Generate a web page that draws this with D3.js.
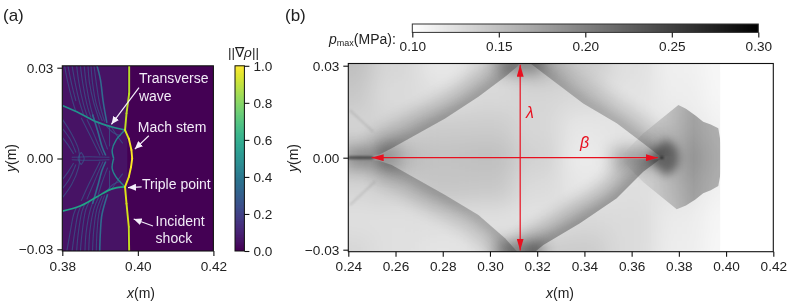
<!DOCTYPE html>
<html>
<head>
<meta charset="utf-8">
<script src="https://cdn.jsdelivr.net/npm/d3@7"></script>
<style>
  html, body { margin: 0; padding: 0; background: #fff; }
  svg { display: block; font-family: "Liberation Sans", Arial, sans-serif; filter: blur(0.3px); }
  text { fill: #222; }
</style>
</head>
<body>
<script>
// panel (a) ticks
var aXTicks = [0.38, 0.40, 0.42];
var aYTicks = [0.03, 0.00, -0.03];
var aBarTicks = [0, 0.2, 0.4, 0.6, 0.8, 1.0];

// panel (b) ticks
var bXTicks = [0.24, 0.26, 0.28, 0.30, 0.32, 0.34, 0.36, 0.38, 0.40, 0.42];
var bYTicks = [0.03, 0.00, -0.03];
var bBarTicks = [0.10, 0.15, 0.20, 0.25, 0.30];

// (a) leading shock, [x, y, gradient]
var shock = [
  [0.3977, 0.0306, 0.88], [0.3977, 0.0215, 0.9], [0.3970, 0.0149, 0.9], [0.3966, 0.0094, 0.92],
  [0.3976, 0.0066, 0.97], [0.3983, 0.0028, 1], [0.3985, 0, 1], [0.3982, -0.0028, 1],
  [0.3976, -0.0061, 0.97], [0.3966, -0.0094, 0.95], [0.3970, -0.0149, 0.95], [0.3976, -0.0226, 0.92],
  [0.3977, -0.0306, 0.9]
];

// (a) transverse waves and inner arcs, [x, y]
var waveUpper = [[0.380, 0.0175], [0.3847, 0.0149], [0.3891, 0.0121], [0.3930, 0.0105], [0.3966, 0.0094]];
var waveLower = [[0.380, -0.0174], [0.3847, -0.0157], [0.3891, -0.0127], [0.3930, -0.0101], [0.3966, -0.0094]];
var arcUpper = [[0.3966, 0.0094], [0.3942, 0.0060], [0.3932, 0.0028], [0.3936, 0]];
var arcLower = [[0.3966, -0.0094], [0.3942, -0.0061], [0.3932, -0.0033], [0.3936, 0]];

// (a) strong streaks near x = 0.39, above and below the waves
var streakStrong = [
  [[0.3892, 0.0306], [0.3901, 0.0260], [0.3908, 0.0190], [0.3918, 0.0118]],
  [[0.3899, -0.0306], [0.3901, -0.0240], [0.3905, -0.0185], [0.3920, -0.0118]],
  [[0.3880, 0.0145], [0.3895, 0.0085], [0.3905, 0.0040], [0.3915, 0.0010]],
  [[0.3880, -0.0150], [0.3895, -0.0085], [0.3905, -0.0040], [0.3915, -0.0010]]
];

// (a) faint ripples behind the front
var ripples = [
  [[0.3884, 0.0306], [0.3890, 0.0250], [0.3899, 0.0180], [0.3912, 0.0122]],
  [[0.3876, 0.0306], [0.3880, 0.0250], [0.3890, 0.0180], [0.3906, 0.0124]],
  [[0.3868, 0.0306], [0.3872, 0.0250], [0.3882, 0.0190], [0.3898, 0.0126]],
  [[0.3858, 0.0306], [0.3864, 0.0240], [0.3875, 0.0170], [0.3885, 0.0128]],
  [[0.3848, 0.0306], [0.3854, 0.0250], [0.3866, 0.0175], [0.3876, 0.0135]],
  [[0.3838, 0.0306], [0.3844, 0.0250], [0.3856, 0.0180], [0.3866, 0.0140]],
  [[0.3826, 0.0306], [0.3834, 0.0250], [0.3846, 0.0185], [0.3856, 0.0146]],
  [[0.3815, 0.0306], [0.3824, 0.0250], [0.3836, 0.0190]],
  [[0.3806, 0.0306], [0.3814, 0.0255], [0.3826, 0.0195], [0.3835, 0.0158]],
  [[0.3890, -0.0306], [0.3892, -0.0240], [0.3898, -0.0175], [0.3912, -0.0122]],
  [[0.3880, -0.0306], [0.3883, -0.0240], [0.3891, -0.0170], [0.3905, -0.0124]],
  [[0.3870, -0.0306], [0.3873, -0.0240], [0.3884, -0.0165], [0.3896, -0.0128]],
  [[0.3860, -0.0306], [0.3863, -0.0245], [0.3874, -0.0170], [0.3884, -0.0135]],
  [[0.3848, -0.0306], [0.3852, -0.0250], [0.3862, -0.0170], [0.3872, -0.0142]],
  [[0.3838, -0.0306], [0.3842, -0.0250], [0.3852, -0.0175], [0.3860, -0.0150]],
  [[0.3826, -0.0306], [0.3832, -0.0250], [0.3842, -0.0180], [0.3850, -0.0154]],
  [[0.3812, -0.0306], [0.3820, -0.0250], [0.3830, -0.0185], [0.3838, -0.0160]],
  [[0.380, 0.0130], [0.3825, 0.0080], [0.3843, 0.0030], [0.3846, 0]],
  [[0.380, 0.0100], [0.3820, 0.0065], [0.3836, 0.0020]],
  [[0.380, 0.0070], [0.3815, 0.0045], [0.3830, 0.0015]],
  [[0.380, -0.0130], [0.3825, -0.0085], [0.3843, -0.0030], [0.3846, 0]],
  [[0.380, -0.0100], [0.3820, -0.0065], [0.3836, -0.0020]],
  [[0.380, -0.0070], [0.3815, -0.0045], [0.3830, -0.0015]],
  [[0.3850, 0.0135], [0.3870, 0.0085], [0.3888, 0.0040], [0.3900, 0.0010]],
  [[0.3865, 0.0130], [0.3882, 0.0085], [0.3897, 0.0040], [0.3908, 0.0010]],
  [[0.3895, 0.0118], [0.3905, 0.0080], [0.3920, 0.0030]],
  [[0.3850, -0.0140], [0.3870, -0.0085], [0.3888, -0.0040], [0.3900, -0.0010]],
  [[0.3865, -0.0135], [0.3882, -0.0085], [0.3897, -0.0040], [0.3908, -0.0010]],
  [[0.3895, -0.0120], [0.3905, -0.0080], [0.3920, -0.0030]],
  [[0.3930, 0.0104], [0.3945, 0.0075], [0.3960, 0.0050]],
  [[0.3915, 0.0110], [0.3935, 0.0085], [0.3955, 0.0075]],
  [[0.3925, 0.0105], [0.3925, 0.0070], [0.3925, 0.0040]],
  [[0.3930, -0.0102], [0.3945, -0.0075], [0.3960, -0.0050]],
  [[0.3915, -0.0112], [0.3935, -0.0085], [0.3955, -0.0075]],
  [[0.3925, -0.0105], [0.3925, -0.0070], [0.3925, -0.0040]],
  [[0.3825, 0.0004], [0.3870, 0.0006], [0.3925, 0.0004]],
  [[0.3825, -0.0004], [0.3870, -0.0006], [0.3925, -0.0004]],
  [[0.3850, 0.0020], [0.3842, 0], [0.3850, -0.0020]],
  [[0.3850, 0.0020], [0.3858, 0], [0.3850, -0.0020]]
];

// (a) labels and arrows: [text, x, y], [x0, y0, x1, y1]
var aLabels = [
  ["Transverse", 0.4003, 0.0248], ["wave", 0.4003, 0.0191],
  ["Mach stem", 0.4000, 0.0089], ["Triple point", 0.4011, -0.0100],
  ["Incident", 0.4047, -0.0222], ["shock", 0.4047, -0.0278]
];
var aArrows = [
  [0.4003, 0.0234, 0.3930, 0.0113],
  [0.4029, 0.0075, 0.3992, 0.0031],
  [0.4010, -0.0094, 0.3974, -0.0096],
  [0.4040, -0.0223, 0.3989, -0.0200]
];

// (b) coarse pressure field (MPa)
var fieldX = [0.24, 0.26, 0.28, 0.30, 0.32, 0.34, 0.36, 0.38, 0.40];
var fieldY = [0.03, 0.02, 0.01, 0.00, -0.01, -0.02, -0.03];
var fieldP = [
  [0.150, 0.131, 0.118, 0.128, 0.150, 0.140, 0.124, 0.112, 0.106],
  [0.143, 0.128, 0.125, 0.130, 0.132, 0.130, 0.122, 0.114, 0.107],
  [0.133, 0.135, 0.140, 0.140, 0.131, 0.120, 0.122, 0.120, 0.110],
  [0.160, 0.155, 0.148, 0.150, 0.135, 0.116, 0.125, 0.135, 0.115],
  [0.133, 0.138, 0.145, 0.143, 0.128, 0.120, 0.125, 0.122, 0.110],
  [0.124, 0.124, 0.126, 0.124, 0.122, 0.130, 0.128, 0.116, 0.107],
  [0.131, 0.124, 0.121, 0.124, 0.140, 0.140, 0.128, 0.114, 0.106]
];

// (b) crisp edge of each shock track, and the far side of the soft fade
var trackEdges = [
  [[0.2530, 0.0010], [0.2584, 0.0031], [0.2810, 0.0128], [0.2951, 0.0199], [0.3064, 0.0264], [0.3120, 0.0300]],
  [[0.3150, 0.0320], [0.3226, 0.0275], [0.3395, 0.0177], [0.3537, 0.0112], [0.3649, 0.0047], [0.3720, 0.0005]],
  [[0.2530, -0.0010], [0.2584, -0.0024], [0.2810, -0.0122], [0.2951, -0.0187], [0.3064, -0.0263], [0.3120, -0.0310]],
  [[0.3720, -0.0005], [0.3649, -0.0046], [0.3537, -0.0132], [0.3381, -0.0214], [0.3226, -0.0285], [0.3170, -0.0320]]
];
var trackAway = [
  [[0.32, 0.05], [0.20, 0.05], [0.20, 0.0]],
  [[0.42, 0.0], [0.42, 0.05], [0.315, 0.05]],
  [[0.32, -0.05], [0.20, -0.05], [0.20, 0.0]],
  [[0.29, -0.032], [0.29, 0.0]]
];
var trackRise = [0.058, 0.05, 0.05, 0.065];

// (b) soft dark patches, with how much pressure each adds
var patches = [
  [[0.303, 0.0306], [0.322, 0.0306]],
  [[0.303, -0.0306], [0.322, -0.0306]],
  [[0.24, 0.0], [0.262, 0.0025]],
  [[0.24, 0.0], [0.262, -0.0025]],
  [[0.352, 0.0], [0.372, 0.0]]
];
var patchRise = [0.08, 0.1, 0.035, 0.035, 0.06];

// (b) thin lines: the core on the axis and the faint left diagonals
var thinLines = [
  [[0.24, 0.0], [0.2505, 0.0]],
  [[0.2407, 0.0155], [0.2505, 0.0085]],
  [[0.2407, -0.0154], [0.2513, -0.0078]]
];
var thinRise = [0.1, 0.02, 0.02];

// (b) detonation head outline and its dark core
var head = [
  [0.3560, 0.0010], [0.3650, 0.0080], [0.3798, 0.0172], [0.3830, 0.0160], [0.3870, 0.0138], [0.3903, 0.0117],
  [0.3935, 0.0108], [0.3967, 0.0096], [0.3977, 0.0050], [0.3981, 0], [0.3977, -0.0050], [0.3967, -0.0092],
  [0.3935, -0.0106], [0.3903, -0.0116], [0.3870, -0.0136], [0.3830, -0.0156], [0.3791, -0.0168], [0.3650, -0.0080], [0.3560, -0.0010]
];
var core = [[0.3680, 0.0012], [0.3745, 0.0060], [0.3790, 0.0035], [0.3800, 0], [0.3790, -0.0035], [0.3745, -0.0060], [0.3680, -0.0012]];
var coreDot = [[0.3720, 0], [0.3735, 0]];

// (b) red measures, [x0, y0, x1, y1]
var measures = [
  [0.3128, 0.0303, 0.3128, -0.0303],
  [0.2499, 0, 0.3711, 0]
];

var svg = d3.select("body").append("svg").attr("width", 793).attr("height", 307);
var defs = svg.append("defs");

function blurFilter(id, sd) {
  defs.append("filter").attr("id", id)
    .attr("filterUnits", "userSpaceOnUse").attr("x", 0).attr("y", 0).attr("width", 793).attr("height", 307)
    .append("feGaussianBlur").attr("stdDeviation", sd);
}
blurFilter("b12", 11);
blurFilter("b7", 8);
blurFilter("b3", 4);
blurFilter("b1", 0.8);
blurFilter("b05", 0.55);

function arrowMarker(id, color, w, h) {
  defs.append("marker").attr("id", id)
    .attr("viewBox", "0 0 " + w + " " + h).attr("refX", w).attr("refY", h / 2)
    .attr("markerUnits", "userSpaceOnUse").attr("markerWidth", w).attr("markerHeight", h)
    .attr("orient", "auto-start-reverse")
    .append("path").attr("d", "M0,0L" + w + "," + (h / 2) + "L0," + h + "Z").attr("fill", color);
}
arrowMarker("headWhite", "#f4eefa", 8, 7);
arrowMarker("headRed", "#e8101f", 12, 7);

function styleAxis(g) {
  g.selectAll("path, line").attr("stroke", "#111").attr("stroke-width", 1.1);
  g.selectAll("text").attr("font-size", 13.6).attr("fill", "#222");
  g.attr("font-family", null);
}

// ---- panel (a)
var ax = d3.scaleLinear().domain([0.38, 0.42]).range([62.3, 213.4]);
var ay = d3.scaleLinear().domain([0.03, -0.03]).range([67.7, 249.3]);
var aTop = 65.8, aBottom = 251;
var aLine = d3.line().x(function(d) { return ax(d[0]); }).y(function(d) { return ay(d[1]); }).curve(d3.curveCatmullRom);
var vir = d3.interpolateViridis;

defs.append("clipPath").attr("id", "clipA").append("rect")
  .attr("x", ax(0.38)).attr("y", aTop).attr("width", ax(0.42) - ax(0.38)).attr("height", aBottom - aTop);

var pa = svg.append("g").attr("clip-path", "url(#clipA)");
pa.append("rect").attr("x", ax(0.38)).attr("y", aTop).attr("width", ax(0.42) - ax(0.38)).attr("height", aBottom - aTop).attr("fill", vir(0));
pa.append("rect").attr("x", ax(0.38)).attr("y", aTop).attr("width", ax(0.3972) - ax(0.38)).attr("height", aBottom - aTop).attr("fill", vir(0.05));

pa.append("g").attr("filter", "url(#b05)").selectAll("path").data(ripples).enter().append("path")
  .attr("d", aLine).attr("fill", "none").attr("stroke", vir(0.27)).attr("stroke-width", 1.1).attr("opacity", 0.7);

pa.append("g").attr("filter", "url(#b05)").selectAll("path").data(streakStrong).enter().append("path")
  .attr("d", aLine).attr("fill", "none").attr("stroke", vir(0.34)).attr("stroke-width", 1.6);

pa.append("g").attr("filter", "url(#b05)").selectAll("path").data([arcUpper, arcLower]).enter().append("path")
  .attr("d", aLine).attr("fill", "none").attr("stroke", vir(0.45)).attr("stroke-width", 1.4);

pa.append("g").attr("filter", "url(#b05)").selectAll("path").data([waveUpper, waveLower]).enter().append("path")
  .attr("d", aLine).attr("fill", "none").attr("stroke", function(d, i) { return vir(i ? 0.58 : 0.5); }).attr("stroke-width", 1.7);

// shock line, one short piece per pair of points so the colour follows the value
pa.append("g").attr("filter", "url(#b05)").selectAll("path").data(d3.pairs(shock)).enter().append("path")
  .attr("d", function(d) { return aLine(d); })
  .attr("fill", "none").attr("stroke-linecap", "round")
  .attr("stroke", function(d) { return vir((d[0][2] + d[1][2]) / 2); })
  .attr("stroke-width", 1.9);

svg.append("g").selectAll("text").data(aLabels).enter().append("text")
  .attr("x", function(d) { return ax(d[1]); }).attr("y", function(d) { return ay(d[2]); })
  .attr("font-size", 14).style("fill", "#f2ecf7").text(function(d) { return d[0]; });

svg.append("g").selectAll("line").data(aArrows).enter().append("line")
  .attr("x1", function(d) { return ax(d[0]); }).attr("y1", function(d) { return ay(d[1]); })
  .attr("x2", function(d) { return ax(d[2]); }).attr("y2", function(d) { return ay(d[3]); })
  .attr("stroke", "#f4eefa").attr("stroke-width", 1.2).attr("marker-end", "url(#headWhite)");

svg.append("rect").attr("x", ax(0.38)).attr("y", aTop).attr("width", ax(0.42) - ax(0.38)).attr("height", aBottom - aTop)
  .attr("fill", "none").attr("stroke", "#111").attr("stroke-width", 1.1);

svg.append("g").attr("transform", "translate(0," + aBottom + ")")
  .call(d3.axisBottom(ax).tickValues(aXTicks).tickFormat(d3.format(".2f")).tickSize(5).tickPadding(5))
  .call(styleAxis).select(".domain").remove();
svg.append("g").attr("transform", "translate(" + ax(0.38) + ",0)")
  .call(d3.axisLeft(ay).tickValues(aYTicks).tickFormat(function(d) { return d3.format(".2f")(d).replace("-", "\u2212"); }).tickSize(5).tickPadding(4))
  .call(styleAxis).select(".domain").remove();

// colorbar (a)
var abar = d3.scaleLinear().domain([0, 1]).range([251, 65.8]);
var aBarX = 235, aBarW = 9.4;
svg.append("g").selectAll("rect").data(d3.range(0, 1, 1 / 186)).enter().append("rect")
  .attr("x", aBarX).attr("width", aBarW)
  .attr("y", function(d) { return abar(d + 1 / 186) - 0.3; }).attr("height", 1.3)
  .attr("fill", function(d) { return vir(d); });
svg.append("rect").attr("x", aBarX).attr("y", 65.8).attr("width", aBarW).attr("height", 185.2)
  .attr("fill", "none").attr("stroke", "#111").attr("stroke-width", 1);
svg.append("g").attr("transform", "translate(" + (aBarX + aBarW) + ",0)")
  .call(d3.axisRight(abar).tickValues(aBarTicks).tickFormat(d3.format(".1f")).tickSize(5).tickPadding(4))
  .call(styleAxis).select(".domain").remove();

svg.append("text").attr("x", 243.5).attr("y", 56.5).attr("text-anchor", "middle").attr("font-size", 13.6)
  .html('||\u2207<tspan font-style="italic">\u03c1</tspan>||');
svg.append("text").attr("x", 141).attr("y", 298).attr("text-anchor", "middle").attr("font-size", 14)
  .html('<tspan font-style="italic">x</tspan>(m)');
svg.append("text").attr("transform", "translate(16,158) rotate(-90)").attr("text-anchor", "middle").attr("font-size", 14)
  .html('<tspan font-style="italic">y</tspan>(m)');
svg.append("text").attr("x", 3).attr("y", 21).attr("font-size", 17).text("(a)");

// ---- panel (b)
var bx = d3.scaleLinear().domain([0.24, 0.42]).range([348.3, 773.3]);
var by = d3.scaleLinear().domain([0.03, -0.03]).range([65.7, 249.7]);
var bTop = 63.5, bBottom = 251.7;
var bLine = d3.line().x(function(d) { return bx(d[0]); }).y(function(d) { return by(d[1]); }).curve(d3.curveCatmullRom);
var bPoly = d3.line().x(function(d) { return bx(d[0]); }).y(function(d) { return by(d[1]); });
var grey = d3.scaleLinear().domain([0.10, 0.30]).range(["#ffffff", "#000000"]);
function riseOpacity(dp) { return dp / 0.2; }

defs.append("clipPath").attr("id", "clipB").append("rect")
  .attr("x", bx(0.24)).attr("y", bTop).attr("width", bx(0.3975) - bx(0.24)).attr("height", bBottom - bTop);

var pb = svg.append("g").attr("clip-path", "url(#clipB)");
var cellW = bx(0.26) - bx(0.24), cellH = by(0.02) - by(0.03);
var fieldCells = [];
fieldP.forEach(function(row, r) {
  row.forEach(function(p, c) { fieldCells.push({ r: r, c: c, p: p }); });
});
// outer cells are stretched past the frame so the blur does not fade at the edges
pb.append("g").attr("filter", "url(#b12)").selectAll("rect").data(fieldCells).enter().append("rect")
  .attr("x", function(d) { return bx(fieldX[d.c]) - cellW / 2 - (d.c === 0 ? 60 : 0); })
  .attr("y", function(d) { return by(fieldY[d.r]) - cellH / 2 - (d.r === 0 ? 60 : 0); })
  .attr("width", function(d) { return cellW + 0.5 + (d.c === 0 || d.c === fieldX.length - 1 ? 60 : 0); })
  .attr("height", function(d) { return cellH + 0.5 + (d.r === 0 || d.r === fieldY.length - 1 ? 60 : 0); })
  .attr("fill", function(d) { return grey(d.p); });

// each shock track fades one way and stops sharply at its edge
trackEdges.forEach(function(edge, i) {
  var id = "track" + i;
  defs.append("clipPath").attr("id", id).append("path").attr("d", bPoly(edge.concat(trackAway[i])) + "Z");
  var t = pb.append("g").attr("clip-path", "url(#" + id + ")");
  t.append("path").attr("d", bLine(edge)).attr("fill", "none").attr("stroke", "#000")
    .attr("stroke-width", 40).attr("opacity", riseOpacity(trackRise[i]) * 0.6).attr("filter", "url(#b7)");
  t.append("path").attr("d", bLine(edge)).attr("fill", "none").attr("stroke", "#000")
    .attr("stroke-width", 14).attr("opacity", riseOpacity(trackRise[i]) * 0.45).attr("filter", "url(#b3)");
});

pb.append("g").attr("filter", "url(#b7)").selectAll("path").data(patches).enter().append("path")
  .attr("d", bLine).attr("fill", "none").attr("stroke", "#000").attr("stroke-width", 16)
  .attr("opacity", function(d, i) { return riseOpacity(patchRise[i]); });

pb.append("g").attr("filter", "url(#b1)").selectAll("path").data(thinLines).enter().append("path")
  .attr("d", bLine).attr("fill", "none").attr("stroke", "#000").attr("stroke-width", function(d, i) { return i ? 2 : 3; })
  .attr("opacity", function(d, i) { return riseOpacity(thinRise[i]); });

// head fades out to the left, its outer rim stays sharp
var headGrad = defs.append("linearGradient").attr("id", "headGrad");
headGrad.append("stop").attr("offset", "0%").attr("stop-color", "#000").attr("stop-opacity", 0);
headGrad.append("stop").attr("offset", "30%").attr("stop-color", "#000").attr("stop-opacity", 0.1);
headGrad.append("stop").attr("offset", "55%").attr("stop-color", "#000").attr("stop-opacity", 0.22);
headGrad.append("stop").attr("offset", "72%").attr("stop-color", "#000").attr("stop-opacity", 0.31);
headGrad.append("stop").attr("offset", "100%").attr("stop-color", "#000").attr("stop-opacity", 0.27);

pb.append("path").attr("d", bPoly(head) + "Z").attr("fill", "url(#headGrad)").attr("filter", "url(#b05)");
pb.append("path").attr("d", bPoly(core) + "Z").attr("fill", "#000").attr("opacity", 0.42).attr("filter", "url(#b3)");
pb.append("path").attr("d", bLine(coreDot)).attr("stroke", "#000").attr("stroke-width", 2).attr("opacity", 0.7).attr("filter", "url(#b1)");

svg.append("g").selectAll("line").data(measures).enter().append("line")
  .attr("x1", function(d) { return bx(d[0]); }).attr("y1", function(d) { return by(d[1]); })
  .attr("x2", function(d) { return bx(d[2]); }).attr("y2", function(d) { return by(d[3]); })
  .attr("stroke", "#e8101f").attr("stroke-width", 1.2)
  .attr("marker-start", "url(#headRed)").attr("marker-end", "url(#headRed)");

svg.append("text").attr("x", 526).attr("y", 118).attr("font-size", 16).attr("font-style", "italic").style("fill", "#e8101f").text("\u03bb");
svg.append("text").attr("x", 580).attr("y", 148).attr("font-size", 16).attr("font-style", "italic").style("fill", "#e8101f").text("\u03b2");

svg.append("rect").attr("x", bx(0.24)).attr("y", bTop).attr("width", bx(0.42) - bx(0.24)).attr("height", bBottom - bTop)
  .attr("fill", "none").attr("stroke", "#111").attr("stroke-width", 1.1);

svg.append("g").attr("transform", "translate(0," + bBottom + ")")
  .call(d3.axisBottom(bx).tickValues(bXTicks).tickFormat(d3.format(".2f")).tickSize(5).tickPadding(5))
  .call(styleAxis).select(".domain").remove();
svg.append("g").attr("transform", "translate(" + bx(0.24) + ",0)")
  .call(d3.axisLeft(by).tickValues(bYTicks).tickFormat(function(d) { return d3.format(".2f")(d).replace("-", "\u2212"); }).tickSize(5).tickPadding(4))
  .call(styleAxis).select(".domain").remove();

// colorbar (b)
var bbar = d3.scaleLinear().domain([0.10, 0.30]).range([412.3, 758.3]);
var bBarY = 24, bBarH = 8.4;
svg.append("g").selectAll("rect").data(d3.range(0.10, 0.30, 0.2 / 346)).enter().append("rect")
  .attr("x", function(d) { return bbar(d) - 0.3; }).attr("width", 1.3)
  .attr("y", bBarY).attr("height", bBarH)
  .attr("fill", function(d) { return grey(d); });
svg.append("rect").attr("x", 412.3).attr("y", bBarY).attr("width", 346).attr("height", bBarH)
  .attr("fill", "none").attr("stroke", "#333").attr("stroke-width", 1);
svg.append("g").attr("transform", "translate(0," + (bBarY + bBarH) + ")")
  .call(d3.axisBottom(bbar).tickValues(bBarTicks).tickFormat(d3.format(".2f")).tickSize(5).tickPadding(4))
  .call(styleAxis).select(".domain").remove();

svg.append("text").attr("transform", "translate(298,158) rotate(-90)").attr("text-anchor", "middle").attr("font-size", 14)
  .html('<tspan font-style="italic">y</tspan>(m)');
svg.append("text").attr("x", 560).attr("y", 298).attr("text-anchor", "middle").attr("font-size", 14)
  .html('<tspan font-style="italic">x</tspan>(m)');
svg.append("text").attr("x", 285).attr("y", 21).attr("font-size", 17).text("(b)");
svg.append("text").attr("x", 329).attr("y", 44).attr("font-size", 14)
  .html('<tspan font-style="italic">p</tspan><tspan font-size="9" dy="2">max</tspan><tspan dy="-2">(MPa):</tspan>');
</script>
</body>
</html>
